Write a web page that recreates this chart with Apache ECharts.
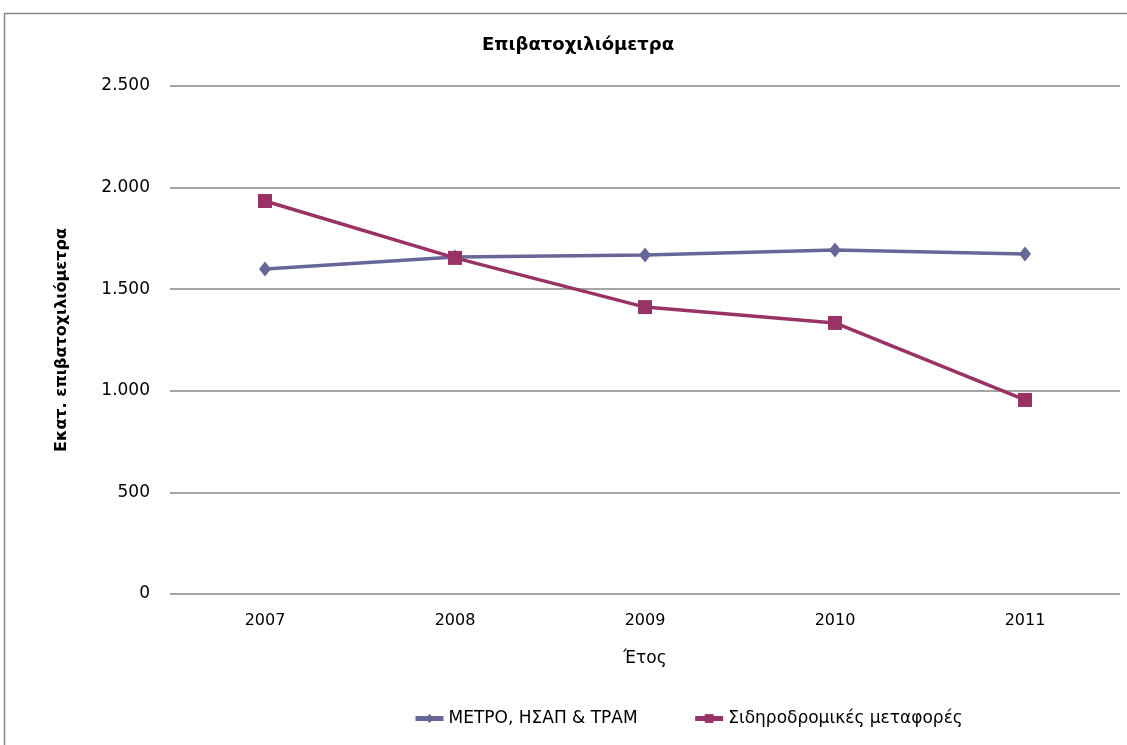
<!DOCTYPE html>
<html>
<head>
<meta charset="utf-8">
<title>Επιβατοχιλιόμετρα</title>
<script src="https://cdn.jsdelivr.net/npm/echarts@6/dist/echarts.min.js"></script>
<style>
  html, body { margin: 0; padding: 0; background: #fff; }
  #chart { width: 1127px; height: 745px; }
</style>
</head>
<body>
<div id="chart"></div>
<script>
// years on the x axis
const years = ['2007', '2008', '2009', '2010', '2011']
// million passenger-km
const metroValues = [1600, 1658, 1668, 1693, 1673]
const railValues = [1934, 1654, 1412, 1334, 955]
const seriesNames = ['ΜΕΤΡΟ, ΗΣΑΠ & ΤΡΑΜ', 'Σιδηροδρομικές μεταφορές']

const font = '"DejaVu Sans", sans-serif'
const metroColor = '#666699'
const railColor = '#993366'

const chart = echarts.init(document.getElementById('chart'), null, { renderer: 'canvas' })

const option = {
  backgroundColor: '#fff',
  animation: false,
  title: {
    text: 'Επιβατοχιλιόμετρα',
    left: 573,
    textAlign: 'center',
    top: 31,
    textStyle: { fontFamily: font, fontSize: 18, fontWeight: 'bold', color: '#000' }
  },
  graphic: [{
    type: 'rect',
    shape: { x: 4.5, y: 13.5, width: 1140, height: 760 },
    style: { fill: 'none', stroke: '#888', lineWidth: 1.5 },
    silent: true
  }],
  legend: {
    data: seriesNames,
    top: 710,
    left: 413,
    padding: 0,
    itemGap: 55,
    itemWidth: 28,
    itemHeight: 11,
    lineStyle: { width: 5 },
    textStyle: { fontFamily: font, fontSize: 17, color: '#000' }
  },
  grid: { left: 170, right: 7, top: 86, bottom: 151 },
  xAxis: {
    type: 'category',
    data: years,
    name: 'Έτος',
    nameLocation: 'middle',
    nameGap: 56,
    nameTextStyle: { fontFamily: font, fontSize: 17, color: '#000' },
    axisLine: { show: false },
    axisTick: { show: false },
    axisLabel: { fontFamily: font, fontSize: 16, color: '#000', margin: 19 }
  },
  yAxis: {
    type: 'value',
    min: 0,
    max: 2500,
    interval: 500,
    name: 'Εκατ. επιβατοχιλιόμετρα',
    nameLocation: 'middle',
    nameGap: 100,
    nameTextStyle: { fontFamily: font, fontSize: 16, fontWeight: 'bold', color: '#000' },
    axisLine: { show: false },
    axisTick: { show: false },
    axisLabel: {
      fontFamily: font, fontSize: 17, color: '#000', margin: 20,
      formatter: v => v >= 1000 ? Math.floor(v / 1000) + '.' + String(v % 1000).padStart(3, '0') : String(v)
    },
    splitLine: { lineStyle: { color: '#868686', width: 1.5 } }
  },
  series: [
    {
      name: seriesNames[0],
      type: 'line',
      data: metroValues,
      symbol: 'diamond',
      symbolSize: [12, 15],
      lineStyle: { color: metroColor, width: 3.5 },
      itemStyle: { color: metroColor }
    },
    {
      name: seriesNames[1],
      type: 'line',
      data: railValues,
      symbol: 'rect',
      symbolSize: 14,
      lineStyle: { color: railColor, width: 3.5 },
      itemStyle: { color: railColor }
    }
  ]
}

chart.setOption(option)
</script>
</body>
</html>
